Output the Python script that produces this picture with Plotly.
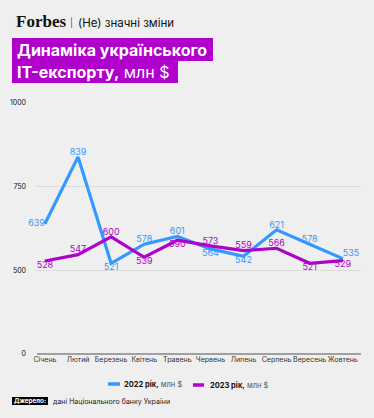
import plotly.graph_objects as go

months = ["Січень", "Лютий", "Березень", "Квітень", "Травень", "Червень",
          "Липень", "Серпень", "Вересень", "Жовтень"]
export_2022 = [639, 839, 521, 578, 601, 564, 542, 621, 578, 535]
export_2023 = [528, 547, 600, 539, 590, 573, 559, 566, 521, 529]
tick_vals = [250, 500, 750, 1000]
tick_text = ["0", "500", "750", "1000"]

pos_2022 = ["middle left", "top center", "bottom center", "top center", "top center",
            "bottom center", "bottom center", "top center", "top center", "top right"]
pos_2023 = ["bottom center", "top center", "top center", "bottom center", "bottom center",
            "top center", "top center", "top center", "bottom center", "bottom center"]

BLUE = "#3399ff"
PURPLE = "#b000cc"
BG = "#efefef"
FONT = "Inter, Roboto, sans-serif"

W, H = 374, 418
L, R, T, B = 35, 13, 103, 64
pw, ph = W - L - R, H - T - B


def px(x):
    return (x - L) / pw


def py(y):
    return (H - B - y) / ph


fig = go.Figure()
fig.add_trace(go.Scatter(
    x=months, y=export_2022, mode="lines+text", text=[str(v) for v in export_2022],
    textposition=pos_2022, textfont=dict(color=BLUE, size=9, family=FONT),
    line=dict(color=BLUE, width=3.2), name="2022 рік", showlegend=False, cliponaxis=False,
    hoverinfo="skip"))
fig.add_trace(go.Scatter(
    x=months, y=export_2023, mode="lines+text", text=[str(v) for v in export_2023],
    textposition=pos_2023, textfont=dict(color=PURPLE, size=9, family=FONT),
    line=dict(color=PURPLE, width=3.2), name="2023 рік", showlegend=False, cliponaxis=False,
    hoverinfo="skip"))

shapes = [
    dict(type="rect", xref="paper", yref="paper", x0=px(12), x1=px(213), y0=py(61), y1=py(38),
         fillcolor=PURPLE, line=dict(width=0), layer="below"),
    dict(type="rect", xref="paper", yref="paper", x0=px(12), x1=px(178), y0=py(83), y1=py(61),
         fillcolor=PURPLE, line=dict(width=0), layer="below"),
    # legend swatches
    dict(type="line", xref="paper", yref="paper", x0=px(108), x1=px(120), y0=py(384), y1=py(384),
         line=dict(color=BLUE, width=3.5)),
    dict(type="line", xref="paper", yref="paper", x0=px(193), x1=px(204), y0=py(385), y1=py(385),
         line=dict(color=PURPLE, width=3.5)),
    # x baseline
    dict(type="line", xref="paper", yref="paper", x0=px(37), x1=1, y0=0, y1=0,
         line=dict(color="#a0a0a0", width=2)),
    # source label box
    dict(type="rect", xref="paper", yref="paper", x0=px(12), x1=px(48), y0=py(405), y1=py(397),
         fillcolor="#000000", line=dict(width=0)),
]

annotations = [
    dict(text="<b>Forbes</b>", x=px(14), y=py(21), xanchor="left", yanchor="middle",
         font=dict(family="Liberation Serif, serif", size=17, color="#111111")),
    dict(text="|", x=px(67.5), y=py(22), xanchor="left", yanchor="middle",
         font=dict(family=FONT, size=9, color="#555555")),
    dict(text="(Не) значні зміни", x=px(76), y=py(22.5), xanchor="left", yanchor="middle",
         font=dict(family=FONT, size=11.5, color="#111111")),
    dict(text="<b>Динаміка українського</b>", x=px(14.5), y=py(50), xanchor="left", yanchor="middle",
         font=dict(family=FONT, size=16, color="white")),
    dict(text="<b>IT-експорту,</b> млн $", x=px(14.5), y=py(72), xanchor="left", yanchor="middle",
         font=dict(family=FONT, size=16, color="white")),
    dict(text="<b>2022 рік,</b> <span style='color:#555'>млн $</span>", x=px(122), y=py(384),
         xanchor="left", yanchor="middle", font=dict(family=FONT, size=7.5, color="#111111")),
    dict(text="<b>2023 рік,</b> <span style='color:#555'>млн $</span>", x=px(207.5), y=py(385),
         xanchor="left", yanchor="middle", font=dict(family=FONT, size=7.5, color="#111111")),
    dict(text="<b>Джерело:</b>", x=px(30), y=py(401), xanchor="center", yanchor="middle",
         font=dict(family=FONT, size=6.3, color="white")),
    dict(text="дані Національного банку України", x=px(50.5), y=py(401), xanchor="left",
         yanchor="middle", font=dict(family=FONT, size=7, color="#222222")),
]
for a in annotations:
    a.update(xref="paper", yref="paper", showarrow=False)

fig.update_layout(
    width=W, height=H, margin=dict(l=L, r=R, t=T, b=B, autoexpand=False),
    paper_bgcolor=BG, plot_bgcolor=BG, hovermode=False,
    shapes=shapes, annotations=annotations,
    xaxis=dict(type="category", range=[-0.3, 9.55], showgrid=False, showline=False,
               zeroline=False, ticks="", tickangle=0, automargin=False,
               tickfont=dict(family=FONT, size=7, color="#333333")),
    yaxis=dict(range=[250, 1000], tickvals=tick_vals, ticktext=tick_text, showgrid=True,
               gridcolor="#dcdcdc", gridwidth=1, zeroline=False, showline=False, ticks="",
               automargin=False, ticklabelstandoff=8,
               tickfont=dict(family=FONT, size=7, color="#111111")),
)

fig.write_html("out.html", config={"displayModeBar": False, "staticPlot": True},
               post_script="document.body.style.margin='0';document.body.style.background='#efefef';")
